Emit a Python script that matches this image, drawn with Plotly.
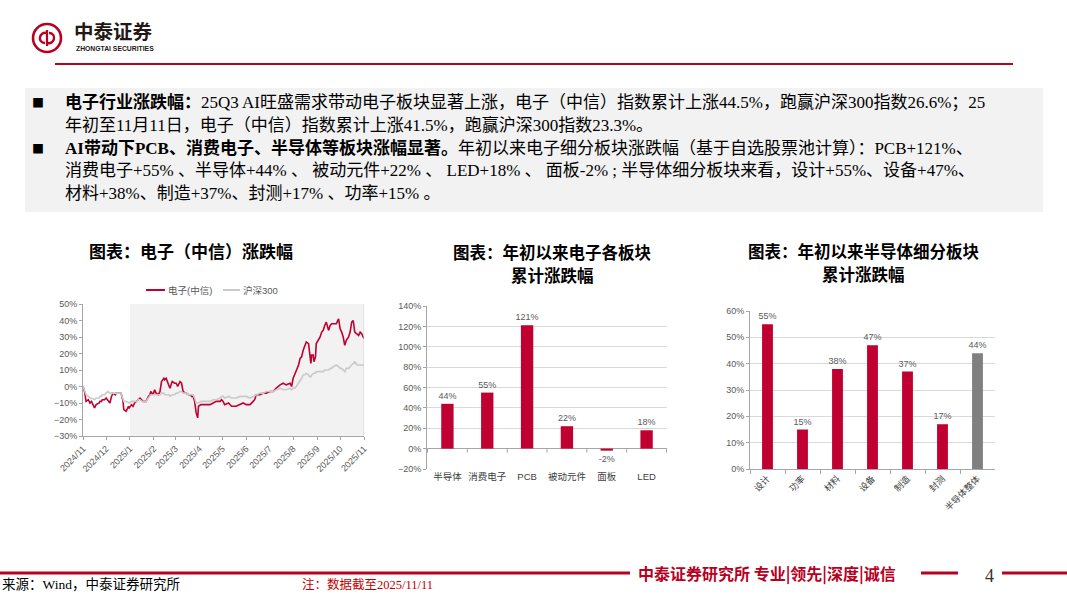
import plotly.graph_objects as go

W, H = 1067, 600


def px(x):
    return x / W


def py(y):
    return 1 - y / H


RED = "#C00030"
LINE_RED = "#B8001F"
AX = "#A6A6A6"
TICK_TXT = "#595959"
GRID = "#D9D9D9"
SANS = "Liberation Sans, Noto Sans CJK SC"
CJK = "Noto Sans CJK SC"
SERIF = "Liberation Serif, Noto Sans CJK SC"

# ---------------- chart 1 data: 电子(中信) vs 沪深300, cumulative change (%)
dates = [
    "2024-11-11", "2024-11-13", "2024-11-15", "2024-11-18", "2024-11-20", "2024-11-22",
    "2024-11-25", "2024-11-26", "2024-11-28", "2024-12-02", "2024-12-03", "2024-12-05",
    "2024-12-06", "2024-12-09", "2024-12-11", "2024-12-13", "2024-12-16", "2024-12-18",
    "2024-12-20", "2024-12-23", "2024-12-24", "2024-12-27", "2024-12-30", "2024-12-31",
    "2025-01-02", "2025-01-03", "2025-01-06", "2025-01-09", "2025-01-10", "2025-01-13",
    "2025-01-15", "2025-01-17", "2025-01-20", "2025-01-22", "2025-01-24", "2025-01-27",
    "2025-01-28", "2025-01-30", "2025-02-01", "2025-02-04", "2025-02-06", "2025-02-07",
    "2025-02-10", "2025-02-12", "2025-02-14", "2025-02-17", "2025-02-19", "2025-02-21",
    "2025-02-24", "2025-02-25", "2025-02-27", "2025-03-03", "2025-03-04", "2025-03-06",
    "2025-03-07", "2025-03-10", "2025-03-12", "2025-03-14", "2025-03-17", "2025-03-19",
    "2025-03-21", "2025-03-24", "2025-03-25", "2025-03-28", "2025-03-31", "2025-04-01",
    "2025-04-03", "2025-04-05", "2025-04-07", "2025-04-09", "2025-04-10", "2025-04-13",
    "2025-04-16", "2025-04-20", "2025-04-25", "2025-04-29", "2025-05-03", "2025-05-08",
    "2025-05-10", "2025-05-12", "2025-05-14", "2025-05-19", "2025-05-23", "2025-05-29",
    "2025-06-03", "2025-06-07", "2025-06-11", "2025-06-16", "2025-06-20", "2025-06-22",
    "2025-06-24", "2025-06-29", "2025-07-03", "2025-07-07", "2025-07-12", "2025-07-16",
    "2025-07-20", "2025-07-25", "2025-07-29", "2025-08-02", "2025-08-07", "2025-08-09",
    "2025-08-11", "2025-08-13", "2025-08-15", "2025-08-18", "2025-08-20", "2025-08-22",
    "2025-08-24", "2025-08-26", "2025-08-28", "2025-08-31", "2025-09-01", "2025-09-03",
    "2025-09-04", "2025-09-06", "2025-09-07", "2025-09-09", "2025-09-10", "2025-09-13",
    "2025-09-15", "2025-09-17", "2025-09-19", "2025-09-21", "2025-09-23", "2025-09-26",
    "2025-09-28", "2025-09-30", "2025-10-02", "2025-10-06", "2025-10-09", "2025-10-11",
    "2025-10-13", "2025-10-15", "2025-10-17", "2025-10-19", "2025-10-22", "2025-10-24",
    "2025-10-26", "2025-10-28", "2025-10-30", "2025-11-02", "2025-11-04", "2025-11-06",
    "2025-11-08", "2025-11-11",
]
elec = [
    0, -3, -9, -8, -10, -9,
    -12, -13, -11, -10, -9, -9,
    -8, -8, -7, -8, -10, -6,
    -4, -5, -4, -4, -4, -5,
    -9, -14, -15, -12, -13, -11,
    -12, -10, -9, -8, -7, -9,
    -9, -9, -9, -6, -5, -3,
    -5, -2, -4, -5, -3, 3,
    5, 4, 5, 0, -1, 2,
    3, 2, 2, 0, 3, 2,
    -3, -4, -4, -5, -5, -6,
    -6, -9, -16, -19, -12, -11,
    -11, -11, -11, -10, -9, -9,
    -8, -9, -11, -10, -12, -12,
    -11, -10, -11, -11, -9, -8,
    -5, -5, -4, -4, -3, -3,
    -1, 1, 2, 1, 2, 0,
    5, 7, 10, 13, 17, 18,
    22, 25, 27, 26, 22, 14,
    19, 19, 15, 18, 26, 28,
    30, 33, 34, 37, 39, 34,
    37, 38, 38, 38, 41, 35,
    33, 30, 25, 28, 30, 33,
    39, 40, 33, 32, 31, 33,
    32, 29,
]
hs300 = [
    0, -3, -5, -6, -7, -7,
    -8, -8, -7, -7, -6, -6,
    -5, -5, -4, -3, -4, -4,
    -4, -4, -4, -4, -4, -5,
    -7, -9, -9, -10, -10, -9,
    -9, -9, -9, -8, -8, -9,
    -9, -9, -9, -7, -6, -5,
    -5, -5, -5, -5, -5, -4,
    -4, -5, -5, -5, -6, -5,
    -5, -5, -4, -4, -3, -3,
    -4, -4, -4, -5, -5, -5,
    -5, -7, -10, -10, -10, -9,
    -9, -9, -9, -8, -8, -7,
    -6, -6, -7, -6, -7, -7,
    -6, -6, -6, -7, -6, -6,
    -5, -4, -4, -3, -3, -3,
    -2, -1, -2, -2, -1, -2,
    -1, -1, 0, 2, 4, 5,
    7, 7, 8, 7, 6, 6,
    7, 8, 8, 8, 9, 9,
    9, 9, 9, 10, 10, 10,
    11, 11, 12, 13, 12, 11,
    11, 10, 9, 11, 11, 12,
    13, 14, 15, 13, 13, 13,
    13, 13,
]
month_ticks = [
    "2024-11-11", "2024-12-11", "2025-01-11", "2025-02-11", "2025-03-11", "2025-04-11",
    "2025-05-11", "2025-06-11", "2025-07-11", "2025-08-11", "2025-09-11", "2025-10-11",
    "2025-11-11",
]
month_labels = [
    "2024/11", "2024/12", "2025/1", "2025/2", "2025/3", "2025/4", "2025/5",
    "2025/6", "2025/7", "2025/8", "2025/9", "2025/10", "2025/11",
]
series_names = ["电子(中信)", "沪深300"]

# ---------------- chart 2 data
sectors = ["半导体", "消费电子", "PCB", "被动元件", "面板", "LED"]
sector_chg = [44, 55, 121, 22, -2, 18]

# ---------------- chart 3 data
semi_segments = ["设计", "功率", "材料", "设备", "制造", "封测", "半导体整体"]
semi_chg = [55, 15, 38, 47, 37, 17, 44]

fig = go.Figure()

fig.add_trace(go.Scatter(x=dates, y=elec, mode="lines", name=series_names[0],
                         line=dict(color=RED, width=1.6), xaxis="x", yaxis="y",
                         showlegend=False))
fig.add_trace(go.Scatter(x=dates, y=hs300, mode="lines", name=series_names[1],
                         line=dict(color="#C9C9C9", width=1.6), xaxis="x", yaxis="y",
                         showlegend=False))

fig.add_trace(go.Bar(x=sectors, y=sector_chg, xaxis="x2", yaxis="y2",
                     marker=dict(color=RED, line=dict(width=0)),
                     text=[f"{v}%" for v in sector_chg], textposition="outside",
                     textfont=dict(size=9, color=TICK_TXT, family=SANS),
                     cliponaxis=False, constraintext="none", showlegend=False))

fig.add_trace(go.Bar(x=semi_segments, y=semi_chg, xaxis="x3", yaxis="y3",
                     marker=dict(color=[RED] * (len(semi_chg) - 1) + ["#808080"],
                                 line=dict(width=0)),
                     text=[f"{v}%" for v in semi_chg], textposition="outside",
                     textfont=dict(size=9, color=TICK_TXT, family=SANS),
                     cliponaxis=False, constraintext="none", showlegend=False))

tickfont = dict(size=9, color=TICK_TXT, family=SANS)

layout = dict(
    width=W, height=H, autosize=False,
    margin=dict(l=0, r=0, t=0, b=0, pad=0, autoexpand=False),
    paper_bgcolor="white", plot_bgcolor="rgba(0,0,0,0)",
    bargap=0.69,
    showlegend=False,
    xaxis=dict(domain=[px(83), px(364)], anchor="y", type="date", automargin=False,
               range=[dates[0], dates[-1]], tickvals=month_ticks, ticktext=month_labels,
               tickangle=-45, ticks="outside", ticklen=3, tickcolor=AX,
               showline=True, linecolor=AX, linewidth=1, showgrid=False,
               tickfont=tickfont),
    yaxis=dict(domain=[py(436), py(304)], anchor="x", range=[-30, 50], dtick=10,
               automargin=False,
               ticksuffix="%", showline=True, linecolor=AX, ticks="outside", ticklen=3,
               tickcolor=AX, showgrid=False, zeroline=False, tickfont=tickfont),
    xaxis2=dict(domain=[px(427), px(667)], anchor="y2", type="category",
                automargin=False,
                showline=False, ticks="", showgrid=False,
                tickfont=dict(size=9.5, color="#404040", family=SANS)),
    yaxis2=dict(domain=[py(469), py(306)], anchor="x2", range=[-20, 140], dtick=20,
                automargin=False,
                ticksuffix="%", showline=True, linecolor=AX, ticks="outside", ticklen=3,
                tickcolor=AX, showgrid=True, gridcolor=GRID, gridwidth=1,
                zeroline=True, zerolinecolor=AX, zerolinewidth=1, tickfont=tickfont),
    xaxis3=dict(domain=[px(750), px(995)], anchor="y3", type="category",
                automargin=False,
                showline=True, linecolor=AX, ticks="outside", tickson="boundaries",
                ticklen=4, tickcolor=AX, tickangle=-45, showgrid=False,
                tickfont=dict(size=9, color="#404040", family=SANS)),
    yaxis3=dict(domain=[py(469), py(311)], anchor="x3", range=[0, 60], dtick=10,
                automargin=False,
                ticksuffix="%", showline=True, linecolor=AX, ticks="outside", ticklen=3,
                tickcolor=AX, showgrid=True, gridcolor=GRID, gridwidth=1,
                zeroline=False, tickfont=tickfont),
)
fig.update_layout(**layout)

shapes = []


def pline(x0, y0, x1, y1, color, width):
    shapes.append(dict(type="line", xref="paper", yref="paper",
                       x0=px(x0), y0=py(y0), x1=px(x1), y1=py(y1),
                       line=dict(color=color, width=width)))


def prect(x0, y0, x1, y1, fill):
    shapes.append(dict(type="rect", xref="paper", yref="paper", layer="below",
                       x0=px(x0), y0=py(y1), x1=px(x1), y1=py(y0),
                       fillcolor=fill, line=dict(width=0)))


def ppath(points, color, width):
    d = ""
    for cmd, pts in points:
        d += cmd + " ".join(f"{px(a):.5f},{py(b):.5f}" for a, b in pts) + " "
    shapes.append(dict(type="path", xref="paper", yref="paper", path=d.strip(),
                       line=dict(color=color, width=width)))


# header logo + rule
shapes.append(dict(type="circle", xref="paper", yref="paper",
                   x0=px(33), x1=px(61), y0=py(52), y1=py(24),
                   line=dict(color=LINE_RED, width=2.6)))
ppath([("M", [(47, 30)]), ("L", [(47, 46)])], LINE_RED, 2.2)
ppath([("M", [(47, 33)]), ("C", [(39, 31), (37, 43), (45, 43)])], LINE_RED, 2.4)
ppath([("M", [(47, 43)]), ("C", [(55, 45), (57, 33), (49, 33)])], LINE_RED, 2.4)
pline(55, 64, 1013, 64, LINE_RED, 2)

# text box background
prect(25, 88, 1043, 212, "#F2F2F2")

# chart 1 shaded "year to date" region (data coords)
shapes.append(dict(type="rect", xref="x", yref="y", layer="below",
                   x0=month_ticks[2], x1=dates[-1], y0=-30, y1=50,
                   fillcolor="#F2F2F2", line=dict(width=0)))
shapes.append(dict(type="line", xref="x", yref="y", x0=dates[-1], x1=dates[-1],
                   y0=-30, y1=50, line=dict(color="#D0D0D0", width=1)))

# chart 1 manual legend
pline(146, 290, 165, 290, RED, 2)
pline(223, 290, 240, 290, "#C9C9C9", 2)

# chart 2: boundary ticks on the 0% axis
for i in range(len(sectors) + 1):
    shapes.append(dict(type="line", xref="x2", yref="y2", x0=i - 0.5, x1=i - 0.5,
                       ysizemode="pixel", yanchor=0, y0=0, y1=-4,
                       line=dict(color=AX, width=1)))

# footer rules
pline(0, 573, 630, 573, LINE_RED, 3)
pline(921, 573, 958, 573, LINE_RED, 3)
pline(1002, 573, 1067, 573, LINE_RED, 3)

fig.update_layout(shapes=shapes)

ann = []


def txt(x, y, s, size, color="#000000", family=CJK, anchor="left"):
    ann.append(dict(xref="paper", yref="paper", x=px(x), y=py(y), text=s,
                    showarrow=False, xanchor=anchor, yanchor="middle",
                    font=dict(size=size, color=color, family=family)))


# header text
txt(113, 31, "<b>中泰证券</b>", 19.5, "#231815", CJK, "center")
txt(114.5, 48.5, "<b>ZHONGTAI SECURITIES</b>", 6.8, "#231815", SANS, "center")

# body text
body_lines = [
    "<b>电子行业涨跌幅：</b>25Q3 AI旺盛需求带动电子板块显著上涨，电子（中信）指数累计上涨44.5%，跑赢沪深300指数26.6%；25",
    "年初至11月11日，电子（中信）指数累计上涨41.5%，跑赢沪深300指数23.3%。",
    "<b>AI带动下PCB、消费电子、半导体等板块涨幅显著。</b>年初以来电子细分板块涨跌幅（基于自选股票池计算）：PCB+121%、",
    "消费电子+55% 、半导体+44% 、 被动元件+22% 、 LED+18% 、 面板-2% ; 半导体细分板块来看，设计+55%、设备+47%、",
    "材料+38%、制造+37%、封测+17% 、功率+15% 。",
]
body_y = [102, 125, 148, 170.5, 193]
for s, yy in zip(body_lines, body_y):
    txt(63, yy, s, 17, "#000000", SERIF, "left")
txt(37.5, body_y[0], "■", 12, "#000000", CJK, "center")
txt(37.5, body_y[2], "■", 12, "#000000", CJK, "center")

# chart titles
txt(191, 250, "<b>图表：电子（中信）涨跌幅</b>", 17, "#000000", CJK, "center")
txt(552, 251.5, "<b>图表：年初以来电子各板块</b>", 16.5, "#000000", CJK, "center")
txt(552, 274.5, "<b>累计涨跌幅</b>", 16.5, "#000000", CJK, "center")
txt(863, 250.5, "<b>图表：年初以来半导体细分板块</b>", 16.5, "#000000", CJK, "center")
txt(863, 273.5, "<b>累计涨跌幅</b>", 16.5, "#000000", CJK, "center")

# chart 1 legend labels
txt(166, 290, series_names[0], 9.5, TICK_TXT, SANS, "left")
txt(241, 290, series_names[1], 9.5, TICK_TXT, SANS, "left")

# footer text
txt(636, 573, "<b>中泰证券研究所 专业|领先|深度|诚信</b>", 16, LINE_RED, CJK, "left")
txt(989, 576, "4", 18, "#333333", SERIF, "center")
txt(0, 584, "来源：Wind，中泰证券研究所", 13.5, "#000000", SERIF, "left")
txt(300, 584, "注：数据截至2025/11/11", 12.5, "#C00000", SERIF, "left")

fig.update_layout(annotations=ann)

fig.write_html("out.html", config={"displayModeBar": False},
               post_script="document.body.style.margin='0px';document.body.style.overflow='hidden';")
